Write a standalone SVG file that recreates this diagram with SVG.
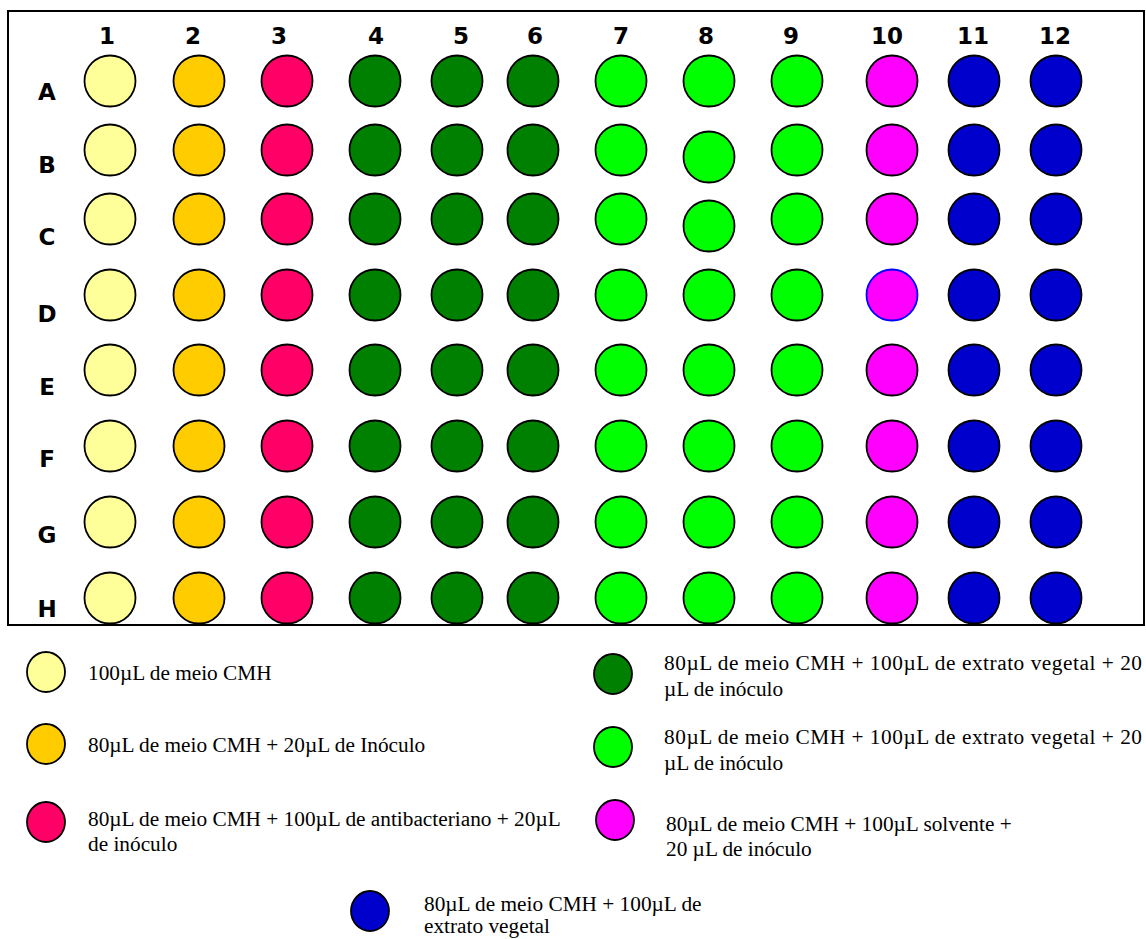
<svg xmlns="http://www.w3.org/2000/svg" width="1146" height="939" viewBox="0 0 1146 939">
<style>
.w{stroke:#000;stroke-width:1.8}
.y{fill:#FFFF99}.o{fill:#FFCC00}.p{fill:#FF0066}.dg{fill:#008000}.g{fill:#00FF00}.m{fill:#FF00FF}.b{fill:#0000CC}
.hd{font-family:"DejaVu Sans",sans-serif;font-weight:bold;font-size:23px;fill:#000;text-anchor:middle}
.lg{font-family:"Liberation Serif","Times New Roman","DejaVu Serif",serif;font-size:21.3px;fill:#000}
</style>
<rect x="8" y="11" width="1136" height="614" fill="#fff" stroke="#000" stroke-width="2"/>
<g id="col-labels" class="hd">
<text x="107" y="44">1</text><text x="193" y="44">2</text><text x="279" y="44">3</text><text x="376" y="44">4</text><text x="461" y="44">5</text><text x="535" y="44">6</text><text x="621" y="44">7</text><text x="706" y="44">8</text><text x="791" y="44">9</text><text x="887" y="44">10</text><text x="973" y="44">11</text><text x="1055" y="44">12</text>
</g>
<g id="row-labels" class="hd">
<text x="47" y="100">A</text><text x="47" y="173">B</text><text x="47" y="245">C</text><text x="47" y="322">D</text><text x="47" y="395">E</text><text x="47" y="467">F</text><text x="47" y="543">G</text><text x="47" y="617">H</text>
</g>
<g id="row-A" class="w">
<circle class="y" cx="110" cy="81" r="25.5"/><circle class="o" cx="199" cy="81" r="25.5"/><circle class="p" cx="287" cy="81" r="25.5"/><circle class="dg" cx="375" cy="81" r="25.5"/><circle class="dg" cx="457" cy="81" r="25.5"/><circle class="dg" cx="533" cy="81" r="25.5"/><circle class="g" cx="621" cy="81" r="25.5"/><circle class="g" cx="709" cy="81" r="25.5"/><circle class="g" cx="797" cy="81" r="25.5"/><circle class="m" cx="892" cy="81" r="25.5"/><circle class="b" cx="974" cy="81" r="25.5"/><circle class="b" cx="1056" cy="81" r="25.5"/>
</g>
<g id="row-B" class="w">
<circle class="y" cx="110" cy="150" r="25.5"/><circle class="o" cx="199" cy="150" r="25.5"/><circle class="p" cx="287" cy="150" r="25.5"/><circle class="dg" cx="375" cy="150" r="25.5"/><circle class="dg" cx="457" cy="150" r="25.5"/><circle class="dg" cx="533" cy="150" r="25.5"/><circle class="g" cx="621" cy="150" r="25.5"/><circle class="g" cx="709" cy="157" r="25.5"/><circle class="g" cx="797" cy="150" r="25.5"/><circle class="m" cx="892" cy="150" r="25.5"/><circle class="b" cx="974" cy="150" r="25.5"/><circle class="b" cx="1056" cy="150" r="25.5"/>
</g>
<g id="row-C" class="w">
<circle class="y" cx="110" cy="219" r="25.5"/><circle class="o" cx="199" cy="219" r="25.5"/><circle class="p" cx="287" cy="219" r="25.5"/><circle class="dg" cx="375" cy="219" r="25.5"/><circle class="dg" cx="457" cy="219" r="25.5"/><circle class="dg" cx="533" cy="219" r="25.5"/><circle class="g" cx="621" cy="219" r="25.5"/><circle class="g" cx="709" cy="226" r="25.5"/><circle class="g" cx="797" cy="219" r="25.5"/><circle class="m" cx="892" cy="219" r="25.5"/><circle class="b" cx="974" cy="219" r="25.5"/><circle class="b" cx="1056" cy="219" r="25.5"/>
</g>
<g id="row-D" class="w">
<circle class="y" cx="110" cy="295" r="25.5"/><circle class="o" cx="199" cy="295" r="25.5"/><circle class="p" cx="287" cy="295" r="25.5"/><circle class="dg" cx="375" cy="295" r="25.5"/><circle class="dg" cx="457" cy="295" r="25.5"/><circle class="dg" cx="533" cy="295" r="25.5"/><circle class="g" cx="621" cy="295" r="25.5"/><circle class="g" cx="709" cy="295" r="25.5"/><circle class="g" cx="797" cy="295" r="25.5"/><circle class="m" cx="892" cy="295" r="25.5" style="stroke:#0000FF"/><circle class="b" cx="974" cy="295" r="25.5"/><circle class="b" cx="1056" cy="295" r="25.5"/>
</g>
<g id="row-E" class="w">
<circle class="y" cx="110" cy="370" r="25.5"/><circle class="o" cx="199" cy="370" r="25.5"/><circle class="p" cx="287" cy="370" r="25.5"/><circle class="dg" cx="375" cy="370" r="25.5"/><circle class="dg" cx="457" cy="370" r="25.5"/><circle class="dg" cx="533" cy="370" r="25.5"/><circle class="g" cx="621" cy="370" r="25.5"/><circle class="g" cx="709" cy="370" r="25.5"/><circle class="g" cx="797" cy="370" r="25.5"/><circle class="m" cx="892" cy="370" r="25.5"/><circle class="b" cx="974" cy="370" r="25.5"/><circle class="b" cx="1056" cy="370" r="25.5"/>
</g>
<g id="row-F" class="w">
<circle class="y" cx="110" cy="446" r="25.5"/><circle class="o" cx="199" cy="446" r="25.5"/><circle class="p" cx="287" cy="446" r="25.5"/><circle class="dg" cx="375" cy="446" r="25.5"/><circle class="dg" cx="457" cy="446" r="25.5"/><circle class="dg" cx="533" cy="446" r="25.5"/><circle class="g" cx="621" cy="446" r="25.5"/><circle class="g" cx="709" cy="446" r="25.5"/><circle class="g" cx="797" cy="446" r="25.5"/><circle class="m" cx="892" cy="446" r="25.5"/><circle class="b" cx="974" cy="446" r="25.5"/><circle class="b" cx="1056" cy="446" r="25.5"/>
</g>
<g id="row-G" class="w">
<circle class="y" cx="110" cy="522" r="25.5"/><circle class="o" cx="199" cy="522" r="25.5"/><circle class="p" cx="287" cy="522" r="25.5"/><circle class="dg" cx="375" cy="522" r="25.5"/><circle class="dg" cx="457" cy="522" r="25.5"/><circle class="dg" cx="533" cy="522" r="25.5"/><circle class="g" cx="621" cy="522" r="25.5"/><circle class="g" cx="709" cy="522" r="25.5"/><circle class="g" cx="797" cy="522" r="25.5"/><circle class="m" cx="892" cy="522" r="25.5"/><circle class="b" cx="974" cy="522" r="25.5"/><circle class="b" cx="1056" cy="522" r="25.5"/>
</g>
<g id="row-H" class="w">
<circle class="y" cx="110" cy="598" r="25.5"/><circle class="o" cx="199" cy="598" r="25.5"/><circle class="p" cx="287" cy="598" r="25.5"/><circle class="dg" cx="375" cy="598" r="25.5"/><circle class="dg" cx="457" cy="598" r="25.5"/><circle class="dg" cx="533" cy="598" r="25.5"/><circle class="g" cx="621" cy="598" r="25.5"/><circle class="g" cx="709" cy="598" r="25.5"/><circle class="g" cx="797" cy="598" r="25.5"/><circle class="m" cx="892" cy="598" r="25.5"/><circle class="b" cx="974" cy="598" r="25.5"/><circle class="b" cx="1056" cy="598" r="25.5"/>
</g>
<g id="connectors"/>
<g id="legend-1"><ellipse class="w y" cx="46" cy="672" rx="19" ry="20"/><text class="lg" x="88" y="680">100µL de meio CMH</text></g>
<g id="legend-2"><ellipse class="w o" cx="46" cy="744" rx="19" ry="20"/><text class="lg" x="88" y="752">80µL de meio CMH + 20µL de Inóculo</text></g>
<g id="legend-3"><ellipse class="w p" cx="46" cy="822" rx="19" ry="20"/><text class="lg" x="88" y="826">80µL de meio CMH + 100µL de antibacteriano + 20µL</text><text class="lg" x="88" y="851">de inóculo</text></g>
<g id="legend-4"><ellipse class="w dg" cx="613" cy="674" rx="19" ry="20"/><text class="lg" x="664" y="670" textLength="478" lengthAdjust="spacing">80µL de meio CMH + 100µL de extrato vegetal + 20</text><text class="lg" x="664" y="696">µL de inóculo</text></g>
<g id="legend-5"><ellipse class="w g" cx="613" cy="747" rx="19" ry="20"/><text class="lg" x="664" y="744" textLength="478" lengthAdjust="spacing">80µL de meio CMH + 100µL de extrato vegetal + 20</text><text class="lg" x="664" y="770">µL de inóculo</text></g>
<g id="legend-6"><ellipse class="w m" cx="615" cy="820" rx="19" ry="20"/><text class="lg" x="666" y="831">80µL de meio CMH + 100µL solvente +</text><text class="lg" x="666" y="856">20 µL de inóculo</text></g>
<g id="legend-7"><ellipse class="w b" cx="370" cy="911" rx="19" ry="20"/><text class="lg" x="424" y="911">80µL de meio CMH + 100µL de</text><text class="lg" x="424" y="933">extrato vegetal</text></g>
</svg>
